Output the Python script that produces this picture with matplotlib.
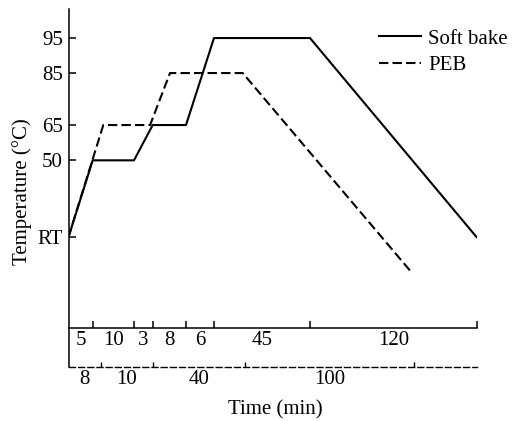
import numpy as np
import matplotlib
matplotlib.use('Agg')
import matplotlib.pyplot as plt
from matplotlib.lines import Line2D

plt.rcParams['font.family'] = ['Liberation Serif', 'DejaVu Serif']
plt.rcParams['font.size'] = 15

# ---------------- data ----------------
RT = 25  # room temperature (schematic value)
soft_durations = [5, 10, 3, 8, 6, 45, 120]            # min
soft_time = [0, 5, 15, 18, 26, 32, 77, 197]            # min (cumulative)
soft_temp = [RT, 50, 50, 65, 65, 95, 95, RT]           # degC
peb_durations = [8, 10, 40, 100]                       # min
peb_bounds = [0, 8, 18, 58, 158]                       # min (cumulative)
peb_time = [0, 8.5, 17.5, 25.5, 57, 157]               # min
peb_temp = [RT, 65, 65, 85, 85, 15]                    # degC
y_ticks = [RT, 50, 65, 85, 95]
y_ticklabels = ['RT', '50', '65', '85', '95']

# ---------------- schematic (non-linear) axis layout ----------------
W, H = 513, 421
soft_knots_px = [0, 24.2, 65.5, 84.2, 117.5, 145.5, 241.5, 408]
peb_knots_t = peb_bounds + [195]
peb_knots_px = [0, 32.2, 84.2, 176.5, 345.5, 408]
temp_knots = [0, RT, 50, 65, 85, 95, 105]
temp_knots_px = [0, 90.7, 167.4, 202.7, 254.7, 289.7, 324.7]


def make_scale(xk, pk):
    xk = np.asarray(xk, float)
    pk = np.asarray(pk, float)

    def interp_ext(v, a, b):
        v = np.asarray(v, float)
        out = np.interp(v, a, b)
        s0 = (b[1] - b[0]) / (a[1] - a[0])
        s1 = (b[-1] - b[-2]) / (a[-1] - a[-2])
        out = np.where(v < a[0], b[0] + (v - a[0]) * s0, out)
        out = np.where(v > a[-1], b[-1] + (v - a[-1]) * s1, out)
        return out

    return (lambda v: interp_ext(v, xk, pk)), (lambda v: interp_ext(v, pk, xk))


fig = plt.figure(figsize=(W / 100, H / 100), dpi=100)
ax = fig.add_axes([68.5 / W, (H - 327.7) / H, 408 / W, 318.7 / H])
ax2 = ax.twiny()

ax.set_xscale('function', functions=make_scale(soft_time, soft_knots_px))
ax.set_yscale('function', functions=make_scale(temp_knots, temp_knots_px))
ax.set_xlim(0, soft_time[-1])
ax.set_ylim(0, 103.3)

l1, = ax.plot(soft_time, soft_temp, color='k', lw=1.5, label='Soft bake')

for s in ['top', 'right']:
    ax.spines[s].set_visible(False)
for s in ['left', 'bottom']:
    ax.spines[s].set_linewidth(1.1)

ax.set_yticks(y_ticks, y_ticklabels)
ax.tick_params(axis='y', direction='in', length=5, width=1.1, pad=4, labelsize=15)

# soft bake time segments
ax.xaxis.set_ticks_position('bottom')
ax.set_xticks(soft_time[1:])
soft_mid = [(a + b) / 2 for a, b in zip(soft_time[:-1], soft_time[1:])]
ax.set_xticks(soft_mid, [str(d) for d in soft_durations], minor=True)
ax.tick_params(axis='x', which='major', direction='in', length=5, width=1.1,
               labelbottom=False, bottom=True, top=False)
ax.tick_params(axis='x', which='minor', length=0, pad=2.5, labelsize=15,
               labelbottom=True, bottom=True, top=False, labeltop=False)

# PEB on its own schematic time axis
ax2.set_xscale('function', functions=make_scale(peb_knots_t, peb_knots_px))
ax2.set_xlim(0, peb_knots_t[-1])
l2, = ax2.plot(peb_time, peb_temp, color='k', lw=1.5, linestyle=(0, (4.5, 2)),
               label='PEB')
for s in ['top', 'right', 'left']:
    ax2.spines[s].set_visible(False)
ax2.xaxis.set_ticks_position('bottom')
ax2.spines['bottom'].set_visible(True)
ax2.spines['bottom'].set_position(('outward', 39 * 0.72))
ax2.spines['bottom'].set_linestyle((0, (4.3, 2.3)))
ax2.spines['bottom'].set_linewidth(1.0)
ax2.set_xticks(peb_bounds[1:])
peb_mid = [(a + b) / 2 for a, b in zip(peb_bounds[:-1], peb_bounds[1:])]
ax2.set_xticks(peb_mid, [str(d) for d in peb_durations], minor=True)
ax2.tick_params(axis='x', which='major', direction='in', length=3.5, width=1.0,
                labelbottom=False, labeltop=False, top=False, bottom=True)
ax2.tick_params(axis='x', which='minor', length=0, pad=2.5, labelsize=15,
                labelbottom=True, labeltop=False, top=False, bottom=True)

# left spine extension down to the PEB time line
ax.add_line(Line2D([0, 0], [0, -39 / 318.7], transform=ax.transAxes,
                   color='k', lw=1.1, clip_on=False))

fig.text(22 / W, 1 - 192 / H, 'Temperature (°C)', rotation=90,
         ha='center', va='center', fontsize=15)
fig.text(275 / W, 1 - 410 / H, 'Time (min)', ha='center', va='center', fontsize=15)

fig.legend([l1, l2], ['Soft bake', 'PEB'], loc='upper left',
           bbox_to_anchor=(379 / W, 1 - 29 / H), frameon=False, fontsize=15,
           handlelength=2.0, handletextpad=0.35, labelspacing=0.35,
           borderpad=0, borderaxespad=0)

fig.savefig('out.png', dpi=100)
